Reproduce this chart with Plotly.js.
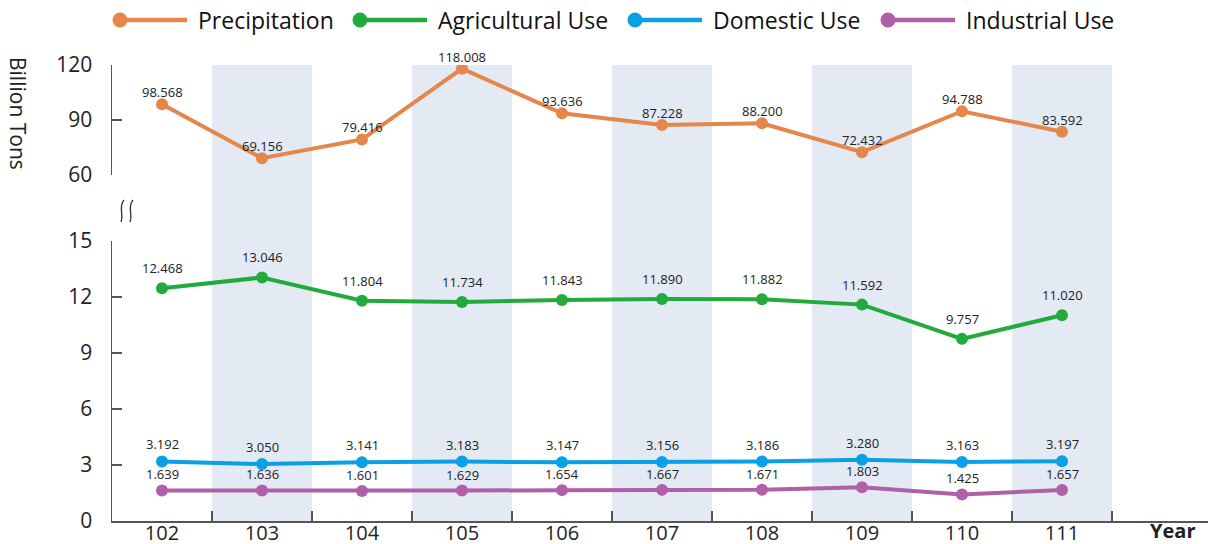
<!DOCTYPE html>
<html>
<head>
<meta charset="utf-8">
<script src="https://cdn.plot.ly/plotly-3.0.1.min.js"></script>
<style>html,body{margin:0;padding:0;background:#fff;}#chart{width:1209px;height:544px;}</style>
</head>
<body>
<div id="chart"></div>
<script>
// ---- data ----
const years = ['102','103','104','105','106','107','108','109','110','111'];
const seriesNames = ['Precipitation','Agricultural Use','Domestic Use','Industrial Use'];
const precipitation = [98.568, 69.156, 79.416, 118.008, 93.636, 87.228, 88.200, 72.432, 94.788, 83.592];
const agricultural = [12.468, 13.046, 11.804, 11.734, 11.843, 11.890, 11.882, 11.592, 9.757, 11.020];
const domestic = [3.192, 3.050, 3.141, 3.183, 3.147, 3.156, 3.186, 3.280, 3.163, 3.197];
const industrial = [1.639, 1.636, 1.601, 1.629, 1.654, 1.667, 1.671, 1.803, 1.425, 1.657];
const upperTicks = [60, 90, 120];
const lowerTicks = [0, 3, 6, 9, 12, 15];

// ---- styling ----
const colors = ['#e5864a', '#22aa3c', '#0aa0e6', '#b060a8'];
const FONT = 'Open Sans, Noto Sans, sans-serif';
const W = 1209, H = 544, L = 112, R = 1;
const px2x = p => (p - L) / (W - L - R);
const py2y = p => 1 - p / H;
const lowerDomain = [py2y(521), py2y(241)];
const upperDomain = [py2y(175), py2y(65)];
const idx = years.map((_, i) => i);

const allValues = [precipitation, agricultural, domestic, industrial];
const yAxes = ['y2', 'y', 'y', 'y'];
const labelShift = [1, 9, 6, 5];

const traces = allValues.map((vals, s) => ({
  type: 'scatter', mode: 'lines+markers',
  x: idx, y: vals, xaxis: 'x', yaxis: yAxes[s],
  name: seriesNames[s], showlegend: false,
  line: {color: colors[s], width: 4},
  marker: {color: colors[s], size: 12},
  hoverinfo: 'x+y'
}));
// invisible trace to activate boundary tick axis
traces.push({type: 'scatter', x: [0], y: [0], xaxis: 'x2', yaxis: 'y', mode: 'markers',
  marker: {opacity: 0}, showlegend: false, hoverinfo: 'skip'});

const annotations = [];
allValues.forEach((vals, s) => {
  vals.forEach((v, i) => {
    annotations.push({
      x: i, y: v, xref: 'x', yref: yAxes[s], text: v.toFixed(3),
      showarrow: false, yanchor: 'bottom', xanchor: 'center', yshift: labelShift[s],
      font: {family: FONT, size: 13, color: '#222'}
    });
  });
});
// axis title (reads top to bottom)
annotations.push({x: px2x(18), y: py2y(113), xref: 'paper', yref: 'paper', text: 'Billion Tons',
  textangle: 90, showarrow: false, xanchor: 'center', yanchor: 'middle',
  font: {family: FONT, size: 21, color: '#222'}});
// x-axis title
annotations.push({x: px2x(1172), y: py2y(530), xref: 'paper', yref: 'paper', text: '<b>Year</b>',
  showarrow: false, xanchor: 'center', yanchor: 'middle', borderpad: 0,
  font: {family: FONT, size: 20, color: '#222'}});

const shapes = [];
// alternating bands
idx.forEach(i => {
  if (i % 2 === 1) {
    shapes.push({type: 'rect', xref: 'x', yref: 'paper', x0: i - 0.5, x1: i + 0.5,
      y0: lowerDomain[0], y1: upperDomain[1], fillcolor: '#e4eaf4', line: {width: 0}, layer: 'below'});
  }
});
// axis break symbol (two wavy strokes)
[122, 131].forEach(bx => {
  const P = (x, y) => px2x(x) + ',' + py2y(y);
  shapes.push({type: 'path', xref: 'paper', yref: 'paper',
    path: 'M' + P(bx + 2, 200) + ' C' + P(bx - 4, 207) + ' ' + P(bx + 2, 214) + ' ' + P(bx - 1, 222),
    line: {color: '#333', width: 1.3}});
});
// custom legend
const legendCircleX = [120, 360, 635, 888];
const legendY = py2y(20);
seriesNames.forEach((name, s) => {
  const cx = px2x(legendCircleX[s]);
  shapes.push({type: 'line', xref: 'paper', yref: 'paper', x0: cx, x1: px2x(legendCircleX[s] + 67),
    y0: legendY, y1: legendY, line: {color: colors[s], width: 4.5}});
  shapes.push({type: 'circle', xref: 'paper', yref: 'paper', xsizemode: 'pixel', ysizemode: 'pixel',
    xanchor: cx, yanchor: legendY, x0: -7.5, x1: 7.5, y0: -7.5, y1: 7.5,
    fillcolor: colors[s], line: {width: 0}});
  annotations.push({x: px2x(legendCircleX[s] + 76), y: legendY, xref: 'paper', yref: 'paper',
    text: name, xanchor: 'left', yanchor: 'middle', showarrow: false,
    font: {family: FONT, size: 23, color: '#111'}});
});

const axisColor = '#555';
const layout = {
  width: W, height: H,
  margin: {l: L, r: R, t: 0, b: 0},
  paper_bgcolor: '#fff', plot_bgcolor: 'rgba(0,0,0,0)',
  showlegend: false,
  xaxis: {
    range: [-0.5, (W - L - R) / 100 - 0.5], tickvals: idx, ticktext: years,
    ticks: '', showgrid: false, zeroline: false, showline: true, linecolor: axisColor, linewidth: 1.5,
    anchor: 'y', ticklabelstandoff: -7, tickfont: {family: FONT, size: 20, color: '#222'}
  },
  xaxis2: {
    overlaying: 'x', anchor: 'y', matches: 'x', range: [-0.5, (W - L - R) / 100 - 0.5],
    tickvals: idx.map(i => i + 0.5), ticks: 'inside', ticklen: 10, tickwidth: 1.5, tickcolor: axisColor,
    showticklabels: false, showgrid: false, zeroline: false, showline: false
  },
  yaxis: {
    domain: lowerDomain, range: [0, 15], tickvals: lowerTicks, ticks: 'inside', ticklen: 10,
    tickwidth: 1.5, tickcolor: axisColor, showline: true, linecolor: axisColor, linewidth: 1.5,
    showgrid: false, zeroline: false, anchor: 'x', ticklabelstandoff: 14,
    tickfont: {family: FONT, size: 21, color: '#222'}
  },
  yaxis2: {
    domain: upperDomain, range: [60, 120], tickvals: upperTicks, ticks: 'inside', ticklen: 10,
    tickwidth: 1.5, tickcolor: axisColor, showline: true, linecolor: axisColor, linewidth: 1.5,
    showgrid: false, zeroline: false, anchor: 'x', ticklabelstandoff: 14,
    tickfont: {family: FONT, size: 21, color: '#222'}
  },
  shapes: shapes,
  annotations: annotations
};

Plotly.newPlot('chart', traces, layout, {displayModeBar: false, staticPlot: true});
</script>
</body>
</html>
